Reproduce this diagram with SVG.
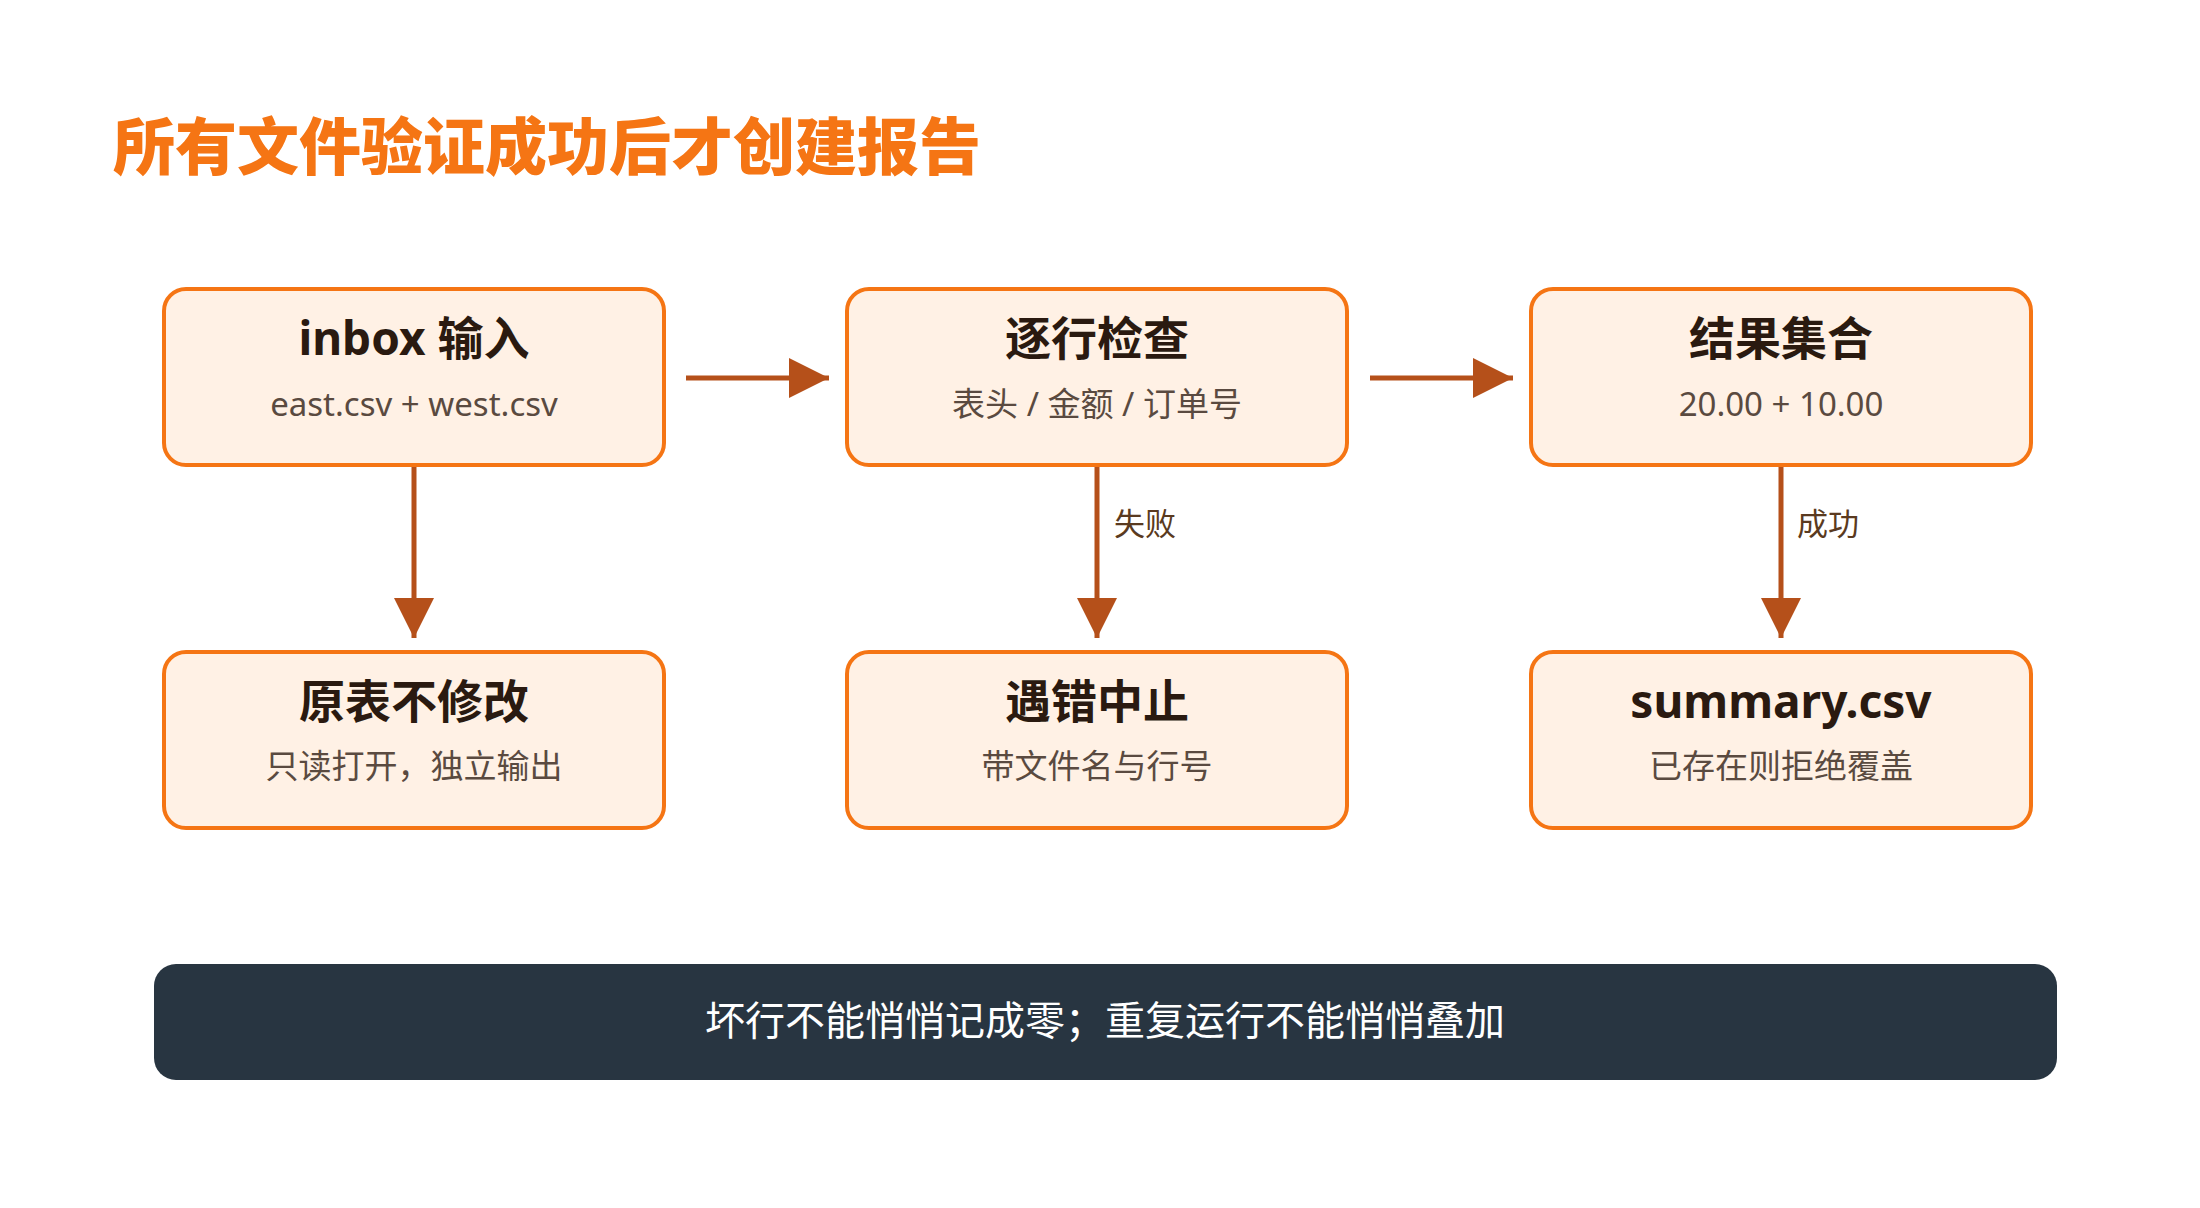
<svg xmlns="http://www.w3.org/2000/svg" width="2200" height="1208" viewBox="0 0 2200 1208">
<style>
.box{fill:#fff1e5;stroke:#f57514;stroke-width:4}
.t{font-family:"Noto Sans","Noto Sans CJK SC",sans-serif;font-weight:700;font-size:46px;fill:#2a1a10;text-anchor:middle}
.s{font-family:"Noto Sans","Noto Sans CJK SC",sans-serif;font-size:33px;fill:#5a4a40;text-anchor:middle}
.l{font-family:"Noto Sans","Noto Sans CJK SC",sans-serif;font-size:31px;fill:#5a3a20}
.c{stroke:#b5501a;stroke-width:5;fill:none}
</style>
<defs><marker id="a" viewBox="0 0 10 10" refX="10" refY="5" markerWidth="8.5" markerHeight="8.5" markerUnits="userSpaceOnUse" orient="auto"><path d="M0,0L10,5L0,10z" fill="#b5501a"/></marker>
<marker id="h" viewBox="0 0 10 10" refX="10" refY="5" markerWidth="8" markerHeight="8" orient="auto"><path d="M0,0L10,5L0,10z" fill="#b5501a"/></marker></defs>
<rect width="2200" height="1208" fill="#fff"/>
<text x="113" y="170" font-family="'Noto Sans CJK SC',sans-serif" font-weight="900" font-size="62" fill="#f57514">所有文件验证成功后才创建报告</text>
<g id="connectors">
<line class="c" x1="686" y1="378" x2="829" y2="378" marker-end="url(#h)"/>
<line class="c" x1="1370" y1="378" x2="1513" y2="378" marker-end="url(#h)"/>
<line class="c" x1="414" y1="467" x2="414" y2="638" marker-end="url(#h)"/>
<line class="c" x1="1097" y1="467" x2="1097" y2="638" marker-end="url(#h)"/>
<line class="c" x1="1781" y1="467" x2="1781" y2="638" marker-end="url(#h)"/>
<text class="l" x="1114" y="535">失败</text>
<text class="l" x="1797" y="535">成功</text>
</g>
<g id="n1"><rect class="box" x="164" y="289" width="500" height="176" rx="22"/><text class="t" x="414" y="355">inbox 输入</text><text class="s" x="414" y="416">east.csv + west.csv</text></g>
<g id="n2"><rect class="box" x="847" y="289" width="500" height="176" rx="22"/><text class="t" x="1097" y="355">逐行检查</text><text class="s" x="1097" y="416">表头 / 金额 / 订单号</text></g>
<g id="n3"><rect class="box" x="1531" y="289" width="500" height="176" rx="22"/><text class="t" x="1781" y="355">结果集合</text><text class="s" x="1781" y="416">20.00 + 10.00</text></g>
<g id="n4"><rect class="box" x="164" y="652" width="500" height="176" rx="22"/><text class="t" x="414" y="718">原表不修改</text><text class="s" x="414" y="778">只读打开，独立输出</text></g>
<g id="n5"><rect class="box" x="847" y="652" width="500" height="176" rx="22"/><text class="t" x="1097" y="718">遇错中止</text><text class="s" x="1097" y="778">带文件名与行号</text></g>
<g id="n6"><rect class="box" x="1531" y="652" width="500" height="176" rx="22"/><text class="t" x="1781" y="718">summary.csv</text><text class="s" x="1781" y="778">已存在则拒绝覆盖</text></g>
<g id="note"><rect x="154" y="964" width="1903" height="116" rx="22" fill="#283541"/><text x="1105" y="1035" text-anchor="middle" font-family="'Noto Sans CJK SC',sans-serif" font-size="40" fill="#fff">坏行不能悄悄记成零；重复运行不能悄悄叠加</text></g>
</svg>
